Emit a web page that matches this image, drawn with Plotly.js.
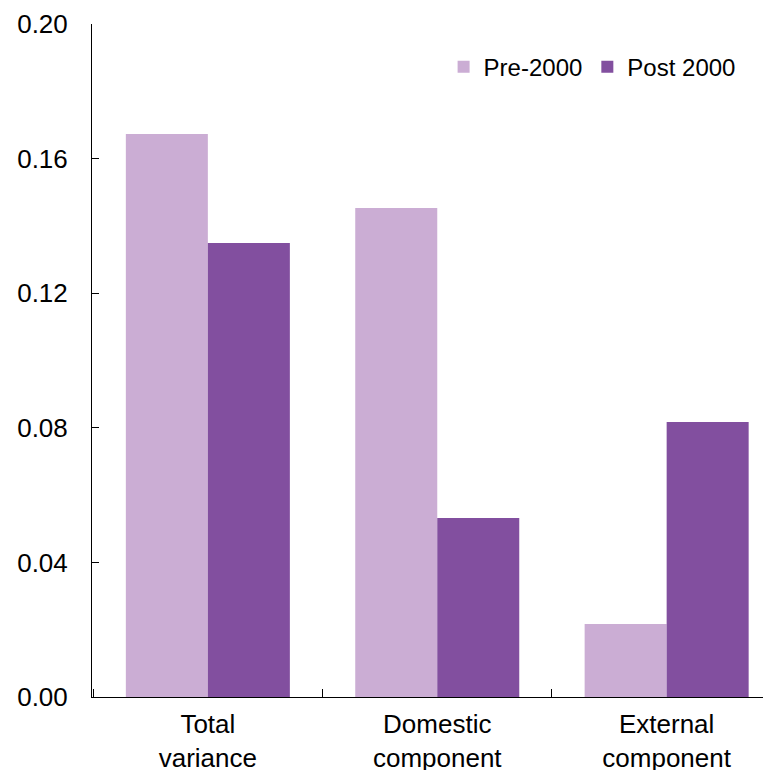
<!DOCTYPE html>
<html><head><meta charset="utf-8">
<script src="https://cdn.plot.ly/plotly-3.0.1.min.js"></script>
<style>body{margin:0;background:#fff}#c{width:763px;height:770px}</style>
</head><body><div id="c"></div>
<script>
const categories = ["Total<br>variance", "Domestic<br>component", "External<br>component"];
const pre2000 = [0.1673, 0.1453, 0.0217];
const post2000 = [0.1349, 0.0532, 0.0817];
const yTicks = [0, 0.04, 0.08, 0.12, 0.16, 0.20];
const yTickText = ["0.00", "0.04", "0.08", "0.12", "0.16", "0.20"];

const data = [
  {type: "bar", name: "Pre-2000", x: categories, y: pre2000, marker: {color: "#CBADD4"}},
  {type: "bar", name: "Post 2000", x: categories, y: post2000, marker: {color: "#824F9F"}}
];
const layout = {
  width: 763, height: 770,
  margin: {l: 92, r: 0, t: 24, b: 73},
  paper_bgcolor: "#fff", plot_bgcolor: "#fff",
  font: {family: "Liberation Sans, Arial, sans-serif", size: 26, color: "#000"},
  barmode: "group", bargap: 0.285, bargroupgap: 0,
  showlegend: true,
  legend: {orientation: "h", x: 0.524, y: 0.936, xanchor: "left", yanchor: "middle",
           font: {size: 24}, itemwidth: 30, tracegroupgap: 0, bgcolor: "rgba(0,0,0,0)"},
  xaxis: {type: "category", range: [-0.505, 2.42], showline: true, linecolor: "#000", linewidth: 1,
          ticks: "inside", tickson: "boundaries", ticklen: 8, tickcolor: "#000",
          showgrid: false, zeroline: false, tickfont: {size: 26}, ticklabelstandoff: 4},
  yaxis: {range: [0, 0.2], tickvals: yTicks, ticktext: yTickText, showline: true, linecolor: "#000",
          linewidth: 1, ticks: "inside", ticklen: 7, tickcolor: "#000", showgrid: false,
          zeroline: false, ticklabelstandoff: 18, tickfont: {size: 26}}
};
Plotly.newPlot("c", data, layout, {displayModeBar: false, staticPlot: true});
</script></body></html>
